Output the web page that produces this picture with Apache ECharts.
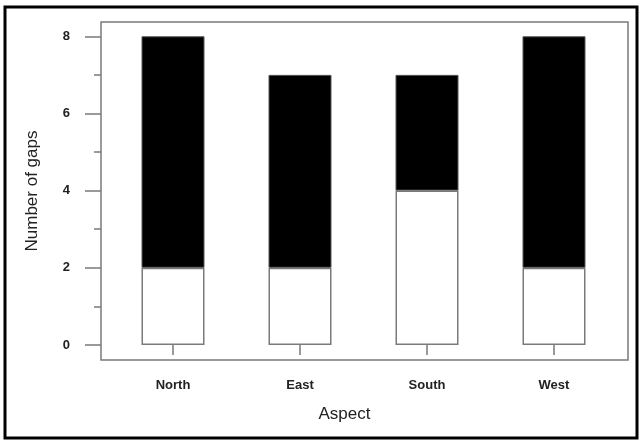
<!DOCTYPE html>
<html>
<head>
<meta charset="utf-8">
<script src="https://cdn.jsdelivr.net/npm/echarts@6/dist/echarts.min.js"></script>
<style>
html,body{margin:0;padding:0;background:#fff;}
#c{width:642px;height:441px;}
</style>
</head>
<body>
<div id="c"></div>
<script>
var categories = ["North", "East", "South", "West"];
var whiteValues = [2, 2, 4, 2];
var blackValues = [6, 5, 3, 6];
var majorTicks = [0, 2, 4, 6, 8];
var minorTicks = [1, 3, 5, 7];

var chart = echarts.init(document.getElementById('c'));
var font = "'Liberation Sans', Arial, sans-serif";
var gray = '#7a7a7a';
var yMin = -0.39, yMax = 8.37;

chart.setOption({
  backgroundColor: '#fff',
  animation: false,
  grid: [{
    left: 101, right: 14, top: 22, bottom: 81,
    show: true, borderColor: gray, borderWidth: 1.5, backgroundColor: 'transparent'
  }, {
    left: 109.5, right: 24.5, top: 22, bottom: 81
  }],
  graphic: [{
    type: 'rect',
    shape: { x: 5, y: 7, width: 632, height: 431 },
    style: { fill: 'none', stroke: '#000', lineWidth: 3 },
    silent: true
  }],
  xAxis: [{
    gridIndex: 0,
    type: 'value', min: 0, max: 1, show: false
  }, {
    gridIndex: 1,
    type: 'category',
    data: categories,
    name: 'Aspect',
    nameLocation: 'middle',
    nameGap: 46,
    nameTextStyle: { fontFamily: font, fontSize: 17, color: '#222', padding: [0, 38, 0, 0] },
    axisLine: { show: false },
    splitLine: { show: false },
    axisTick: { show: true, length: 10, alignWithLabel: true, lineStyle: { color: gray, width: 1.5 } },
    axisLabel: {
      margin: 19,
      fontFamily: font, fontSize: 13, fontWeight: 'bold', color: '#222'
    }
  }],
  yAxis: [{
    gridIndex: 0,
    type: 'value',
    min: yMin, max: yMax,
    name: 'Number of gaps',
    nameLocation: 'middle',
    nameGap: 60,
    nameTextStyle: { fontFamily: font, fontSize: 17, color: '#222' },
    axisLine: { show: false },
    splitLine: { show: false },
    axisTick: { show: true, length: 16, customValues: majorTicks, lineStyle: { color: gray, width: 1.5 } },
    axisLabel: {
      customValues: majorTicks,
      margin: 31,
      fontFamily: font, fontSize: 13, fontWeight: 'bold', color: '#222'
    }
  }, {
    gridIndex: 0,
    type: 'value',
    position: 'left',
    min: yMin, max: yMax,
    axisLine: { show: false },
    splitLine: { show: false },
    axisTick: { show: true, length: 7, customValues: minorTicks, lineStyle: { color: gray, width: 1.5 } },
    axisLabel: { show: false }
  }, {
    gridIndex: 1,
    type: 'value',
    min: yMin, max: yMax,
    show: false
  }],
  series: [{
    type: 'bar',
    xAxisIndex: 1, yAxisIndex: 2,
    stack: 'g',
    data: whiteValues,
    barWidth: 63,
    itemStyle: { color: '#fff', borderColor: gray, borderWidth: 1.5 }
  }, {
    type: 'bar',
    xAxisIndex: 1, yAxisIndex: 2,
    stack: 'g',
    data: blackValues,
    barWidth: 63,
    itemStyle: { color: '#000', borderColor: '#555', borderWidth: 1 }
  }]
});
</script>
</body>
</html>
